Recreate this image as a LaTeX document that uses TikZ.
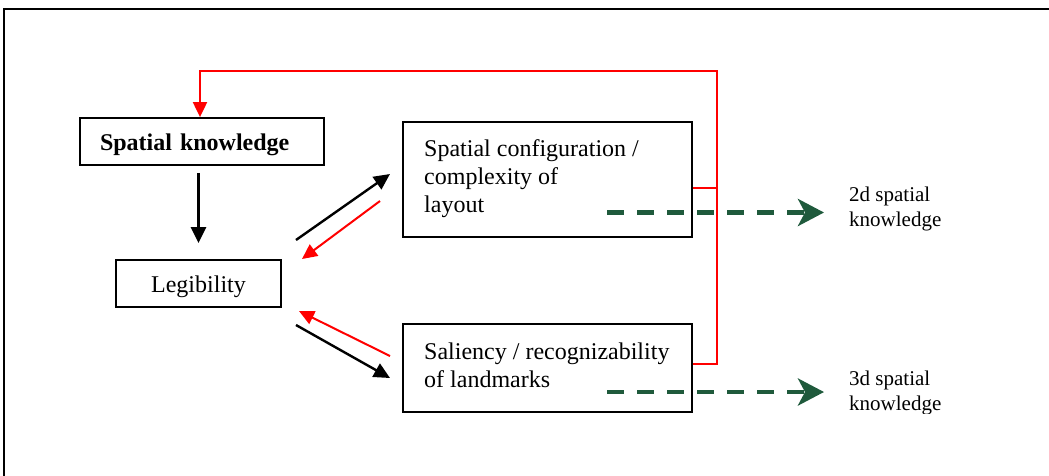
\documentclass[tikz,border=0pt]{standalone}
\usepackage{fontspec}
\setmainfont{Liberation Serif}
\usetikzlibrary{arrows.meta,calc}
\definecolor{dkgreen}{RGB}{31,90,60}
\begin{document}
\begin{tikzpicture}[x=1pt,y=-1pt,
  box/.style={draw=black,line width=1.8pt,inner sep=0pt,font=\fontsize{24}{28}\selectfont},
  boxtext/.style={anchor=west,align=left,inner sep=0pt,font=\fontsize{24}{28}\selectfont},
  blk/.style={draw=black,line width=2.4pt,-{Triangle[length=16pt,width=15pt]}},
  redarr/.style={draw=red,line width=2pt,-{Triangle[length=15pt,width=14pt]}},
  redline/.style={draw=red,line width=1.6pt},
  grn/.style={draw=dkgreen,line width=4.5pt,dash pattern=on 17pt off 13pt,
     -{Stealth[length=26pt,width=27pt,inset=7pt]}},
  lbl/.style={anchor=west,align=left,inner sep=0pt,font=\fontsize{21}{25}\selectfont}]
\useasboundingbox (0,0) rectangle (1049,475);
% outer frame
\draw[line width=2.6pt] (4,480) -- (4,9) -- (1055,9);
% boxes
\node[box,minimum width=244pt,minimum height=47pt,text width=204pt,align=left,text height=22pt,text depth=4pt] (sk) at (202,141.5) {\textbf{Spatial knowledge}};
\node[box,minimum width=165pt,minimum height=47pt,text height=22pt,text depth=4pt] (leg) at (198.5,283.5) {Legibility};
\node[box,minimum width=289pt,minimum height=115pt] (cfg) at (547.5,179.5) {};
\node[box,minimum width=289pt,minimum height=88pt] (sal) at (547.5,368) {};
\node[boxtext] (cfgT) at (424,179) {Spatial configuration /\\complexity of\\layout};
\node[boxtext] (salT) at (424,365.5) {Saliency / recognizability\\of landmarks};
% labels
\node[lbl] (l2d) at (849,208.5) {2d spatial\\knowledge};
\begin{scope}
\clip (840,360) rectangle (1000,413.5);
\node[lbl] (l3d) at (849,393) {3d spatial\\knowledge};
\end{scope}
% coordinates
\coordinate (cfgR) at ($(cfg.east)+(0,8.5)$);
\coordinate (salR) at ($(sal.east)+(0,-4)$);
\coordinate (loopTR) at (717,71);
\coordinate (skTop) at ($(sk.north)+(-2,0)$);
\coordinate (a1s) at (296,240); \coordinate (a1e) at (390,174);
\coordinate (a2s) at (380,201); \coordinate (a2e) at (302,259);
\coordinate (a3s) at (390,356); \coordinate (a3e) at (299,311);
\coordinate (a4s) at (296,325); \coordinate (a4e) at (390,378);
\coordinate (g1s) at (607,212.5); \coordinate (g1e) at (824,212.5);
\coordinate (g2s) at (607,392); \coordinate (g2e) at (824,392);
% red feedback loop
\draw[redline] (cfgR) -- (cfgR -| loopTR);
\draw[redarr] (salR) -| (loopTR) -| (skTop);
% vertical arrow
\draw[blk,shorten <=7pt,shorten >=16pt] (leg.north |- sk.south) -- (leg.north);
% diagonal arrows
\draw[blk] (a1s) -- (a1e);
\draw[redarr] (a2s) -- (a2e);
\draw[redarr] (a3s) -- (a3e);
\draw[blk] (a4s) -- (a4e);
% green dashed arrows
\draw[grn] (g1s) -- (g1e);
\draw[grn] (g2s) -- (g2e);
\end{tikzpicture}
\end{document}
